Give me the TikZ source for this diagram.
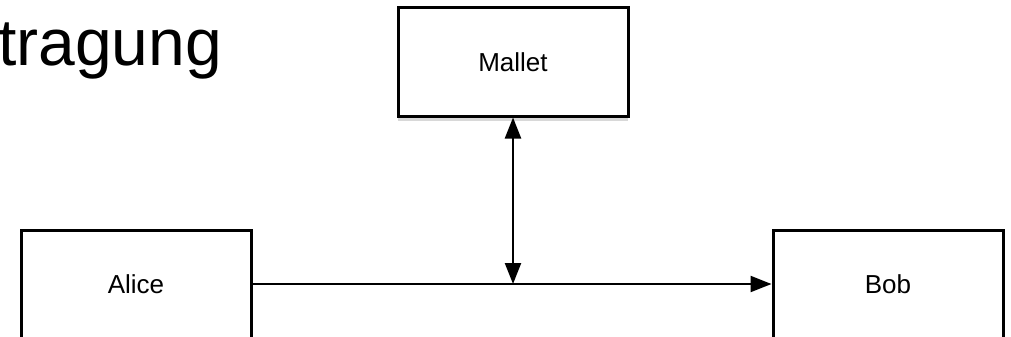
\documentclass[tikz,border=0pt]{standalone}
\usepackage{fontspec}
\setmainfont{Liberation Sans}
\usetikzlibrary{arrows.meta,shadows}

\begin{document}
\begin{tikzpicture}[x=1pt, y=-1pt,
		party/.style={draw=black, line width=3pt, fill=white, minimum width=230pt, minimum height=108pt, font=\fontsize{26}{30}\selectfont, drop shadow={shadow xshift=0pt, shadow yshift=-5pt, opacity=0.3}},
		link/.style={line width=2.2pt, -{Triangle[length=21pt, width=16pt]}},
		twoway/.style={line width=2.2pt, {Triangle[length=21pt, width=16pt]}-{Triangle[length=21pt, width=16pt]}}]
		%%%%% START %%%%%
		
		\clip (0, 0) rectangle (1011, 337);
		\fill[white] (0, 0) rectangle (1011, 337);
		
		\node[anchor=base west, inner sep=0pt, font=\fontsize{66}{72}\selectfont] (title) at (-2, 65) {tragung};
		
		\node[party] (mallet) at (513, 62) {Mallet};
		\node[party] (alice) at (136, 284) {Alice};
		\node[party] (bob) at (888, 284) {Bob};
		
		\draw[link] (alice.east) -- (bob.west);
		
		\coordinate (tap) at (mallet.south |- alice.east);
		\draw[twoway] (mallet.south) -- (tap);
		
		%%%%% END %%%%%
	\end{tikzpicture}
\end{document}
